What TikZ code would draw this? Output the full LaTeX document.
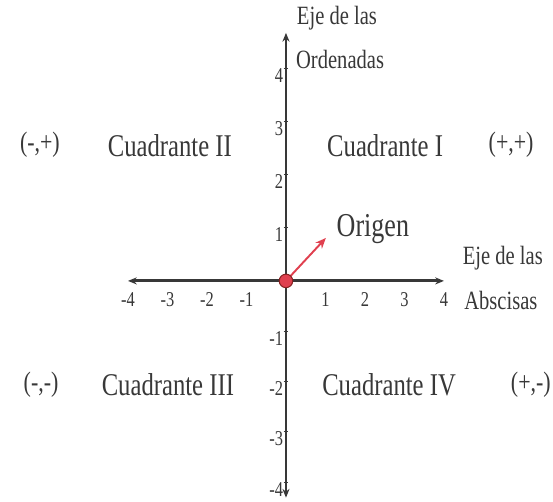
\documentclass[tikz,border=0pt]{standalone}
\usepackage{fontspec}
\setmainfont{Liberation Serif}[FakeStretch=0.78]
\usepackage{xcolor}
\usetikzlibrary{arrows.meta}

\definecolor{ink}{HTML}{383838}
\definecolor{origred}{HTML}{E0404F}

\begin{document}
\begin{tikzpicture}[x=0.79cm, y=1.06cm,
    axis/.style={draw=ink, {Stealth[length=5pt,width=4pt]}-{Stealth[length=5pt,width=4pt]}},
    quad/.style={text=ink, font=\fontsize{18}{20}\selectfont},
    sign/.style={text=ink, font=\fontsize{16}{18}\selectfont},
    axname/.style={text=ink, font=\fontsize{15}{17}\selectfont},
    num/.style={text=ink, font=\fontsize{12}{14}\selectfont, inner sep=1pt}]
        \useasboundingbox (-7.24,-4.17) rectangle (6.76,5.30);

        % Axes
        \coordinate (xl) at (-4,0);
        \coordinate (xr) at (4,0);
        \coordinate (yb) at (0,-4.09);
        \coordinate (yt) at (0,4.68);
        \draw[axis, line width=1.7pt] (xl) -- (xr);
        \draw[axis, line width=1pt] (yb) -- (yt);

        % Ticks and numbers (lower half a bit tighter)
        \foreach \k in {-4,-3,-2,-1,1,2,3,4} {
          \pgfmathsetmacro{\yk}{\k<0 ? 0.95*\k : \k}
          \draw[ink, line width=0.6pt] (-0.06,\yk) -- (0.06,\yk);
          \node[num, anchor=east] (ny\k) at (-0.02,\yk-0.13) {\k};
          \node[num] (nx\k) at (\k,-0.36) {\k};
        }

        % Axis names
        \node[axname] (ejey) at (1.29,4.96) {Eje de las};
        \node[axname] (ordenadas) at (1.37,4.17) {Ordenadas};
        \node[axname] (ejex) at (5.49,0.42) {Eje de las};
        \node[axname] (abscisas) at (5.44,-0.36) {Abscisas};

        % Origin
        \coordinate (otip) at (1.01,0.81);
        \draw[origred, line width=1.1pt, -{Stealth[length=6pt,width=5pt]}] (0,0) -- (otip);
        \node[circle, fill=origred, draw=ink!60!red, line width=0.6pt, minimum size=0.27cm, inner sep=0pt] (o) at (0,0) {};
        \node[text=ink, font=\fontsize{19}{21}\selectfont] (origen) at (2.2,0.98) {Origen};

        % Quadrants
        \node[quad] (q1) at (2.51,2.56) {Cuadrante I};
        \node[quad] (q2) at (-2.94,2.56) {Cuadrante II};
        \node[quad] (q3) at (-2.99,-1.96) {Cuadrante III};
        \node[quad] (q4) at (2.61,-1.96) {Cuadrante IV};

        % Signs
        \node[sign] (s1) at (5.70,2.56) {(+,+)};
        \node[sign] (s2) at (-6.23,2.56) {(-,+)};
        \node[sign] (s3) at (-6.20,-1.96) {(-,-)};
        \node[sign] (s4) at (6.20,-1.96) {(+,-)};
      \end{tikzpicture}
\end{document}
